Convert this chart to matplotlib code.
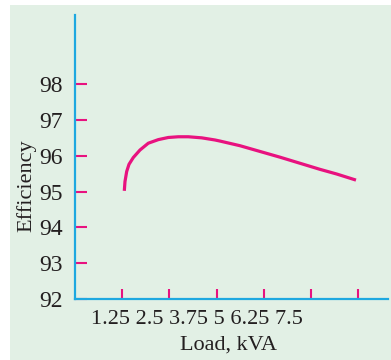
import matplotlib.pyplot as plt
from matplotlib.patches import Rectangle

# values
load_kva = [1.306, 1.324, 1.369, 1.430, 1.544, 1.721, 1.941, 2.206, 2.471, 2.736,
            3.001, 3.355, 3.708, 3.840, 4.370, 4.899, 5.429, 5.959, 6.489, 6.931, 7.442]
efficiency = [95.02, 95.28, 95.56, 95.76, 95.95, 96.16, 96.35, 96.45, 96.51, 96.53,
              96.53, 96.50, 96.44, 96.41, 96.28, 96.12, 95.96, 95.79, 95.62, 95.49, 95.32]

x_ticks = [1.25, 2.5, 3.75, 5, 6.25, 7.5]
x_tick_labels = ["1.25", "2.5", "3.75", "5", "6.25", "7.5"]
y_ticks = [92, 93, 94, 95, 96, 97, 98]

bg = "#e2f0e5"
axis_col = "#1ea8e0"
mag = "#e8127f"
txt = "#231f20"

plt.rcParams["font.family"] = ["Liberation Serif", "DejaVu Serif"]

W, H = 391, 360
fig = plt.figure(figsize=(W / 100, H / 100), dpi=100)
fig.patches.append(Rectangle((10 / W, 0), 1, 1 - 5 / H, transform=fig.transFigure,
                             facecolor=bg, edgecolor="none", zorder=-10))

ax = fig.add_axes([75 / W, (H - 299) / H, (388 - 75) / W, (299 - 15) / H])
ax.set_facecolor("none")
ax.plot(load_kva, efficiency, color=mag, lw=2.3, solid_capstyle="butt",
        solid_joinstyle="round")

ax.set_xlim(0, 8.29)
ax.set_ylim(92, 99.93)
for s in ["top", "right"]:
    ax.spines[s].set_visible(False)
for s in ["left", "bottom"]:
    ax.spines[s].set_color(axis_col)
    ax.spines[s].set_linewidth(1.6)

ax.set_xticks(x_ticks)
ax.set_xticklabels([])
ax.set_yticks(y_ticks)
ax.tick_params(axis="x", direction="in", length=7.5, width=1.5, color=mag)
ax.tick_params(axis="y", direction="in", length=8.5, width=1.5, color=mag,
               labelsize=17, labelcolor=txt, pad=9)

# x labels sit crowded to the left of the ticks, as in the original
fig.text(197 / W, 1 - 320 / H, " ".join(x_tick_labels), ha="center", va="center",
         fontsize=16, color=txt)
fig.text(228 / W, 1 - 345 / H, "Load, kVA", ha="center", va="center",
         fontsize=16, color=txt)
fig.text(26 / W, 1 - 186 / H, "Efficiency", ha="center", va="center",
         rotation=90, fontsize=16, color=txt)

fig.savefig("out.png", dpi=100)
